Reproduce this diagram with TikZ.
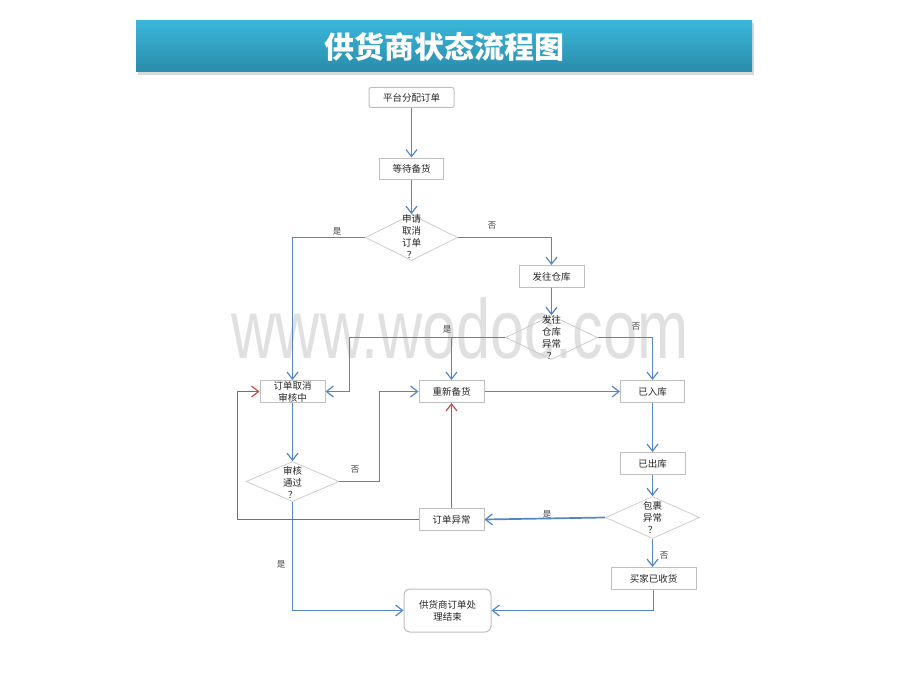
\documentclass[tikz,border=0pt]{standalone}
\usepackage{fontspec}
\setmainfont{Liberation Sans}
\newfontfamily\cjk{Noto Sans CJK SC}
\usetikzlibrary{arrows.meta,shapes.geometric}
\definecolor{lineblue}{RGB}{84,134,196}
\definecolor{linered}{RGB}{192,80,77}
\definecolor{boxgray}{RGB}{191,191,191}
\definecolor{titletop}{RGB}{58,182,218}
\definecolor{titlebot}{RGB}{42,140,170}
\definecolor{wmgray}{RGB}{224,224,224}
\tikzset{
  stepbox/.style={draw=boxgray, line width=1pt, fill=white, font=\cjk\fontsize{9.5}{12}\selectfont, align=center, inner sep=0pt, text=black!85},
  endbox/.style={stepbox, rounded corners=6pt},
  decision/.style={draw=boxgray!85, line width=0.7pt, diamond, inner sep=0pt},
  dtext/.style={font=\cjk\fontsize{9.5}{12}\selectfont, align=center, inner sep=0pt, text=black!85},
  lbl/.style={font=\cjk\fontsize{8.5}{10}\selectfont, text=black!75, inner sep=0pt},
  flow/.style={draw=lineblue, line width=1.7pt, -{Straight Barb[length=7pt,width=11pt,line width=1.2pt]}},
  redflow/.style={draw=linered, line width=1.5pt, -{Straight Barb[length=7pt,width=11pt,line width=1.2pt]}},
}
\begin{document}
\begin{tikzpicture}[x=1pt,y=-1pt]
\useasboundingbox (0,0) rectangle (920,690);
\fill[white] (0,0) rectangle (920,690);
% watermark
\node[text=wmgray, font=\fontsize{84}{84}\selectfont, xscale=0.73, inner sep=0pt] (wm) at (460,328) {www.wodoc.com};
% title
\fill[black, opacity=0.15] (138,23) rectangle (754,75);
\shade[top color=titletop, bottom color=titlebot] (136,21) rectangle (752,72);
\node[text=white, font=\cjk\bfseries\fontsize{30}{32}\selectfont, inner sep=0pt] (title) at (444,47) {供货商状态流程图};
% nodes
\node[stepbox, rounded corners=2pt, minimum width=85pt, minimum height=20pt] (assign) at (411.5,97.5) {平台分配订单};
\node[stepbox, minimum width=64pt, minimum height=21pt] (wait) at (411.5,168.5) {等待备货};
\node[decision, minimum width=92pt, minimum height=46pt] (d1) at (411.5,237.5) {};
\node[dtext] (d1t) at (411.5,237) {申请\\取消\\订单\\？};
\node[stepbox, minimum width=65pt, minimum height=22pt] (ship) at (551.5,276.5) {发往仓库};
\node[decision, minimum width=92pt, minimum height=44pt] (d2) at (551.5,337.5) {};
\node[dtext] (d2t) at (551.5,337.5) {发往\\仓库\\异常\\？};
\node[stepbox, minimum width=65pt, minimum height=22pt] (cancel) at (292.5,391.5) {订单取消\\审核中};
\node[stepbox, minimum width=65pt, minimum height=22pt] (restock) at (451.5,391.5) {重新备货};
\node[stepbox, minimum width=64pt, minimum height=22pt] (instock) at (652.5,391.5) {已入库};
\node[stepbox, minimum width=65pt, minimum height=22pt] (outstock) at (652.5,463.5) {已出库};
\node[decision, minimum width=94pt, minimum height=42pt] (d4) at (652.5,517.5) {};
\node[dtext] (d4t) at (652.5,517.5) {包裹\\异常\\？};
\node[stepbox, minimum width=65pt, minimum height=22pt] (abn) at (451.5,519.5) {订单异常};
\node[decision, minimum width=93pt, minimum height=40pt] (d3) at (292.5,481.5) {};
\node[dtext] (d3t) at (292.5,482) {审核\\通过\\？};
\node[stepbox, minimum width=85pt, minimum height=22pt] (recv) at (653.5,578.5) {买家已收货};
\node[endbox, minimum width=87pt, minimum height=43pt] (end) at (447.5,610.5) {供货商订单处\\理结束};
% helper coordinates
\coordinate (c1) at (349.5,337.5);
\coordinate (c2) at (379.5,481.5);
\coordinate (c3) at (237.5,519.5);
% connectors
\draw[flow] (assign.south) -- (wait.north);
\draw[flow] (wait.south) -- (d1.north);
\draw[flow] (d1.west) -| (cancel.north);
\draw[flow] (d1.east) -| (ship.north);
\draw[flow] (ship.south) -- (d2.north);
\draw[flow] (d2.west) -- (c1) |- (cancel.east);
\draw[flow] (d2.west) -| (restock.north);
\draw[flow] (d2.east) -| (instock.north);
\draw[flow] (restock.east) -- (instock.west);
\draw[flow] (instock.south) -- (outstock.north);
\draw[flow] (outstock.south) -- (d4.north);
\draw[flow] (d4.west) -- (abn.east);
\draw[flow] (d4.south) -- (d4.south |- recv.north);
\draw[flow] (recv.south) |- (end.east);
\draw[flow] (cancel.south) -- (d3.north);
\draw[flow] (d3.east) -- (c2) |- (restock.west);
\draw[flow] (d3.south) |- (end.west);
\draw[redflow] (abn.north) -- (restock.south);
\draw[redflow] (abn.west) -- (c3) |- (cancel.west);
% labels
\node[lbl] (l1) at (337,231) {是};
\node[lbl] (l2) at (492,226) {否};
\node[lbl] (l3) at (447,329) {是};
\node[lbl] (l4) at (636,327) {否};
\node[lbl] (l5) at (355,470) {否};
\node[lbl] (l6) at (547,514) {是};
\node[lbl] (l7) at (664,556) {否};
\node[lbl] (l8) at (281,564) {是};
\end{tikzpicture}
\end{document}
